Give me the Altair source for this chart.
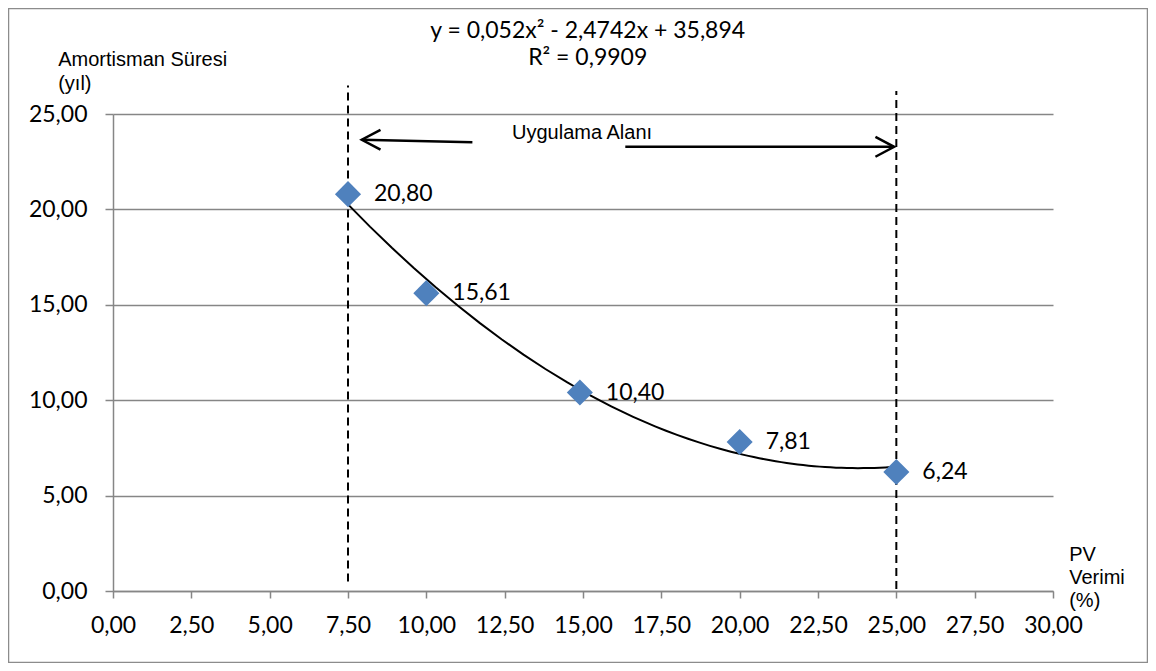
import altair as alt
import pandas as pd

# ---- data ----
pv_verimi = [7.5, 10.0, 14.9, 20.0, 25.0]
amortisman = [20.80, 15.61, 10.40, 7.81, 6.24]
point_labels = ["20,80", "15,61", "10,40", "7,81", "6,24"]

x_ticks = [0, 2.5, 5, 7.5, 10, 12.5, 15, 17.5, 20, 22.5, 25, 27.5, 30]
y_ticks = [0, 5, 10, 15, 20, 25]

range_x = [7.5, 25.0]
range_y_low = [0.5, 0.1]
range_y_high = [26.5, 26.2]

left_arrow_x = [11.47, 7.94]
left_arrow_y = [23.52, 23.65]
right_arrow_x = [16.35, 24.93]
right_arrow_y = [23.28, 23.28]

equation_lines = ["y = 0,052x² - 2,4742x + 35,894", "R² = 0,9909"]
equation_x = [15.15, 15.15]
equation_y = [29.35, 27.94]

range_label = ["Uygulama Alanı"]
range_label_x = [14.97]
range_label_y = [24.0]

x_title = ["PV", "Verimi", "(%)"]
y_title = ["Amortisman Süresi", "(yıl)"]

# ---- tables ----
pts = pd.DataFrame({"x": pv_verimi, "y": amortisman, "label": point_labels})
dashes = pd.DataFrame({"x": range_x, "y": range_y_low, "y2": range_y_high})
arrows = pd.DataFrame({
    "x": [left_arrow_x[0], right_arrow_x[0]],
    "x2": [left_arrow_x[1], right_arrow_x[1]],
    "y": [left_arrow_y[0], right_arrow_y[0]],
    "y2": [left_arrow_y[1], right_arrow_y[1]],
})
left_head = pd.DataFrame({"x": [left_arrow_x[1]], "y": [left_arrow_y[1]]})
right_head = pd.DataFrame({"x": [right_arrow_x[1]], "y": [right_arrow_y[1]]})
eq = pd.DataFrame({"x": equation_x, "y": equation_y, "t": equation_lines})
rl = pd.DataFrame({"x": range_label_x, "y": range_label_y, "t": range_label})

fmt = "replace(format(datum.value, '.2f'), '.', ',')"
xscale = alt.Scale(domain=[0, 30], nice=False, zero=False)
yscale = alt.Scale(domain=[0, 25], nice=False, zero=False)

xaxis = alt.Axis(
    values=x_ticks, labelExpr=fmt, grid=False, tickSize=7, labelPadding=16,
    labelOverlap=False, labelFlush=False,
    title=x_title, titleX=955.7, titleY=-30.7, titleAngle=0,
    titleAlign="left", titleBaseline="alphabetic", titleLineHeight=23,
)
yaxis = alt.Axis(
    values=y_ticks, labelExpr=fmt, grid=True, tickSize=8, labelPadding=18,
    labelOverlap=False, labelFlush=False,
    title=y_title, titleX=-55.3, titleY=-48.3, titleAngle=0,
    titleAlign="left", titleBaseline="alphabetic", titleLineHeight=24,
)
X = alt.X("x:Q", scale=xscale, axis=xaxis)
Y = alt.Y("y:Q", scale=yscale, axis=yaxis)

border = alt.Chart(pd.DataFrame({"a": [0]})).mark_rect(
    fill="transparent", stroke="#8c8c8c", strokeWidth=1.5
).encode(
    x=alt.value(-104.5), x2=alt.value(1034.5),
    y=alt.value(-105.5), y2=alt.value(548.5),
)

points = alt.Chart(pts).mark_point(
    shape="diamond", filled=True, size=680, color="#4F81BD", opacity=1
).encode(x=X, y=Y)

trend = alt.Chart(pts).transform_regression(
    "x", "y", method="poly", order=2, extent=[7.5, 25]
).mark_line(color="black", strokeWidth=2).encode(x=X, y=Y)

dash_rules = alt.Chart(dashes).mark_rule(
    color="black", strokeWidth=2, strokeDash=[8, 5]
).encode(x=X, y=Y, y2="y2:Q")

labels = alt.Chart(pts).mark_text(
    align="left", baseline="middle", dx=26, font="Lato", fontSize=23, color="black"
).encode(x=X, y=Y, text="label:N")

arrow_lines = alt.Chart(arrows).mark_rule(color="black", strokeWidth=2.5).encode(
    x=X, y=Y, x2="x2:Q", y2="y2:Q"
)
lhead = alt.Chart(left_head).mark_point(
    shape="M 1 -0.53 L 0 0 L 1 0.53", filled=False, size=1400,
    stroke="black", strokeWidth=2.5, opacity=1
).encode(x=X, y=Y)
rhead = alt.Chart(right_head).mark_point(
    shape="M -1 -0.53 L 0 0 L -1 0.53", filled=False, size=1400,
    stroke="black", strokeWidth=2.5, opacity=1
).encode(x=X, y=Y)

eq_text = alt.Chart(eq).mark_text(
    align="center", baseline="middle", font="Lato", fontSize=23, color="black"
).encode(x=X, y=Y, text="t:N")

rl_text = alt.Chart(rl).mark_text(
    align="center", baseline="middle", font="Liberation Sans", fontSize=20, color="black"
).encode(x=X, y=Y, text="t:N")

chart = alt.layer(
    border, dash_rules, trend, points, labels, arrow_lines, lhead, rhead, eq_text, rl_text
).properties(
    width=940, height=477,
    autosize=alt.AutoSizeParams(type="none"),
    padding={"left": 105, "top": 106, "right": 95, "bottom": 72},
    background="white",
).configure_view(
    strokeWidth=0
).configure_axis(
    labelFont="Lato", labelFontSize=23, labelColor="black",
    titleFont="Liberation Sans", titleFontSize=20, titleFontWeight="normal", titleColor="black",
    domainColor="#868686", tickColor="#868686", gridColor="#868686",
    domainWidth=1.5, tickWidth=1.5, gridWidth=1.3,
)

chart.save("out.html", embed_options={"renderer": "svg", "actions": False})
